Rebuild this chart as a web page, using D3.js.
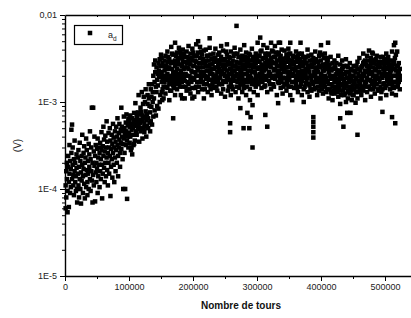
<!DOCTYPE html>
<html><head><meta charset="utf-8">
<script src="https://cdn.jsdelivr.net/npm/d3@7"></script>
<style>body{margin:0;background:#fff}svg{display:block}text{font-family:"Liberation Sans",Arial,Helvetica,sans-serif}</style>
</head><body><svg id="c" width="411" height="318"></svg>
<script>
// ---- data (x in thousands of tours, y in volts) ----
const xTicks=[0,100000,200000,300000,400000,500000];
const xMinorTicks=[50000,150000,250000,350000,450000,550000];
const yTicks=[1e-5,1e-4,1e-3,1e-2];
const yTickLabels=["1E-5","1E-4","1E-3","0,01"];
const xTitle="Nombre de tours", yTitle="(V)", seriesName="a", seriesSub="d";

const phase1=[[1,6.0e-5],[1,1.1e-4],[2,1.6e-4],[2,8.0e-5],[3,2.0e-4],[3,1.3e-4],[4,5.4e-5],[4,9.5e-5],[5,1.8e-4],[5,2.4e-4],[6,1.2e-4],[6,6.2e-5],[7,3.2e-4],[7,1.5e-4],[8,9.0e-5],[8,2.1e-4],[9,1.7e-4],[9,1.05e-4],[10,4.8e-4],[10,2.6e-4],[11,1.3e-4],[11,5.5e-4],[12,1.9e-4],[12,3.0e-4],[13,1.1e-4],[13,1.45e-4],[14,2.2e-4],[14,8.5e-5],[15,1.6e-4],[15,3.6e-4],[16,1.2e-4],[16,2.0e-4],[17,9.5e-5],[17,1.4e-4],[18,2.5e-4],[18,1.75e-4],[19,1.0e-4],[19,7.0e-5],[20,1.5e-4],[20,2.3e-4],
[21,1.1e-4],[21,2.8e-4],[22,1.8e-4],[22,8.0e-5],[23,1.3e-4],[23,3.4e-4],[24,2.1e-4],[24,1.0e-4],[25,1.55e-4],[25,6.8e-5],[26,2.4e-4],[26,1.25e-4],[27,1.9e-4],[27,4.2e-4],[28,9.0e-5],[28,1.4e-4],[29,2.6e-4],[29,1.7e-4],[30,1.15e-4],[30,3.1e-4],[31,2.0e-4],[31,7.8e-5],[32,1.45e-4],[32,2.3e-4],[33,1.05e-4],[33,3.8e-4],[34,1.65e-4],[34,2.8e-4],[35,1.2e-4],[35,8.5e-5],[36,2.1e-4],[36,1.5e-4],[37,3.3e-4],[37,1.0e-4],[38,1.8e-4],[38,2.5e-4],[39,1.3e-4],[39,4.6e-4],[40,2.2e-4],[40,9.5e-5],[41,1.6e-4],[41,3.0e-4],[42,8.6e-4],[42,1.25e-4],[43,2.0e-4],[43,7.0e-5],[44,8.6e-4],[44,1.45e-4],[45,2.7e-4],[45,1.1e-4],[46,1.85e-4],[46,4.0e-4],[47,7.2e-5],[47,2.4e-4],[48,1.55e-4],[48,3.2e-4],[49,2.0e-4],[49,1.2e-4],[50,2.9e-4],[50,1.7e-4],[51,3.8e-4],[51,9.0e-5],[52,2.3e-4],[52,1.4e-4],[53,1.9e-4],[53,3.0e-4],[54,1.05e-4],[54,2.6e-4],
[55,1.6e-4],[55,3.4e-4],[56,2.2e-4],[56,1.3e-4],[57,2.8e-4],[57,4.5e-4],[58,7.8e-5],[58,1.9e-4],[59,3.1e-4],[59,1.5e-4],[60,2.4e-4],[60,5.2e-4],[61,1.75e-4],[61,3.7e-4],[62,1.2e-4],[62,2.7e-4],[63,2.0e-4],[63,4.1e-4],[64,3.0e-4],[64,1.4e-4],[65,2.3e-4],[65,6.0e-4],[66,1.65e-4],[66,3.5e-4],[67,2.6e-4],[67,1.1e-4],[68,4.4e-4],[68,2.0e-4],[69,3.0e-4],[69,1.5e-4],[70,2.4e-4],[70,5.0e-4],[71,8.3e-5],[71,3.6e-4],[72,1.8e-4],[72,2.9e-4],[73,4.2e-4],[73,2.2e-4],[74,1.35e-4],[74,3.3e-4],[75,2.6e-4],[75,5.6e-4],[76,1.9e-4],[76,3.9e-4],[77,3.0e-4],[77,1.2e-4],[78,4.6e-4],[78,2.3e-4],[79,3.5e-4],[79,1.6e-4],[80,2.8e-4],[80,5.2e-4],[81,2.0e-4],[81,4.0e-4],[82,3.2e-4],[82,6.5e-4],[83,2.4e-4],[83,1.4e-4],[84,4.4e-4],[84,3.0e-4],[85,3.7e-4],[85,5.6e-4],[86,2.6e-4],[86,1.8e-4],[87,4.8e-4],[87,3.4e-4],[88,8.6e-4],[88,2.9e-4],[89,4.0e-4],[89,5.2e-4],[90,3.3e-4],[90,2.2e-4],[91,1.0e-4],[91,4.6e-4],[92,6.8e-4],[92,3.8e-4],[93,5.0e-4],[93,2.6e-4],[94,1.0e-4],[94,4.2e-4],[95,5.8e-4],[95,3.2e-4],[96,7.2e-4],[96,4.6e-4],[97,7.7e-5],[97,3.6e-4],[98,5.4e-4],[98,4.0e-4],[99,6.4e-4],[99,3.0e-4]];

const phase2=[[100,4.4e-4],[100,6.0e-4],[101,3.4e-4],[101,5.2e-4],[102,7.0e-4],[102,4.0e-4],[103,2.8e-4],[103,5.6e-4],[104,4.8e-4],[104,3.0e-4],[105,6.5e-4],[105,2.5e-4],[106,5.0e-4],[106,4.2e-4],[107,3.2e-4],[107,5.9e-4],[108,7.5e-4],[108,3.3e-4],[109,5.3e-4],[109,3.6e-4],[110,9.7e-4],[110,6.2e-4],[111,4.6e-4],[111,5.5e-4],[112,7.0e-4],[112,4.2e-4],[113,5.8e-4],[113,6.6e-4],[114,4.9e-4],[114,7.6e-4],[115,5.4e-4],[115,1.2e-3],[116,6.2e-4],[116,3.5e-4],[117,7.2e-4],[117,5.7e-4],[118,8.6e-4],[118,4.6e-4],[119,5.0e-4],[119,7.7e-4],[120,1.3e-3],[120,6.0e-4],[121,7.0e-4],[121,3.8e-4],[122,6.6e-4],[122,9.5e-4],[123,1.15e-3],[123,5.0e-4],[124,5.6e-4],[124,4.5e-4],[125,6.8e-4],[125,1.0e-3],[126,7.8e-4],[126,1.4e-3],[127,4.0e-4],[127,6.2e-4],[128,5.3e-4],[128,7.2e-4],[129,1.2e-3],[129,9.5e-4],[130,5.0e-4],[130,6.5e-4],[131,1.1e-3],[131,1.6e-3],[132,9.0e-4],[132,5.8e-4],[133,4.6e-4],[133,7.6e-4],[134,1.4e-3],[134,6.0e-4],[135,1.15e-3],[135,8.8e-4],[136,1.6e-3],[136,5.5e-4],[137,1.3e-3],[137,1.0e-3],[138,2.0e-3],[138,6.8e-4],[139,1.1e-3],[139,2.7e-3],[140,1.7e-3],[140,8.0e-4],[141,2.2e-3],[141,3.0e-3],[142,1.5e-3],[142,7.0e-4],[143,2.5e-3],[143,1.3e-3],[144,1.8e-3],[144,9.0e-4],[145,2.1e-3],[145,1.55e-3],[146,2.8e-3],[146,8.4e-4],[147,2.3e-3],[147,1.95e-3],[148,3.1e-3],[148,1.0e-3],[149,2.6e-3],[149,1.2e-3],[150,2.0e-3],[150,3.5e-3],[152,1.05e-3]];

// each row: thousands of tours, then the readings at that position
const phase3=[
[151,1.3e-3,2.2e-3,3.2e-3,1.7e-3],[154,2.6e-3,1.5e-3,1.1e-3,2.0e-3],[157,3.4e-3,1.8e-3,2.4e-3,1.25e-3],[160,2.1e-3,2.9e-3,1.45e-3,3.8e-3],[163,1.6e-3,2.5e-3,1.05e-3,3.1e-3],[166,2.8e-3,1.9e-3,4.3e-3,1.35e-3],[169,6.5e-4,2.2e-3,3.5e-3,1.55e-3],[172,2.6e-3,1.2e-3,3.0e-3,1.8e-3,4.8e-3],[175,2.0e-3,3.7e-3,1.4e-3,2.4e-3],[178,3.2e-3,1.65e-3,2.7e-3,4.2e-3],
[181,1.2e-3,2.3e-3,3.5e-3,1.9e-3],[184,2.9e-3,1.5e-3,4.0e-3,2.1e-3],[187,1.75e-3,3.3e-3,2.5e-3,1.1e-3],[190,3.8e-3,2.0e-3,1.35e-3,2.8e-3],[193,2.4e-3,1.6e-3,3.1e-3,4.4e-3],[196,1.25e-3,2.7e-3,1.9e-3,3.6e-3],[199,3.0e-3,2.2e-3,1.45e-3,4.1e-3],[202,1.8e-3,3.4e-3,2.6e-3,1.15e-3],[205,2.9e-3,4.6e-3,2.0e-3,1.5e-3],[208,2.3e-3,1.3e-3,3.7e-3,5.0e-3],
[211,3.2e-3,1.7e-3,2.5e-3,4.3e-3],[214,1.4e-3,2.8e-3,2.0e-3,3.5e-3],[217,2.2e-3,3.9e-3,1.6e-3,1.1e-3],[220,3.0e-3,1.85e-3,2.6e-3,4.0e-3],[223,1.3e-3,2.3e-3,3.4e-3,1.95e-3],[226,2.7e-3,4.2e-3,1.55e-3,2.1e-3],[229,1.8e-3,3.1e-3,2.4e-3,1.2e-3],[232,3.6e-3,2.0e-3,1.45e-3,2.9e-3],[235,2.5e-3,1.7e-3,4.1e-3,3.2e-3],[238,1.35e-3,2.2e-3,3.0e-3,1.9e-3],
[241,2.8e-3,3.7e-3,1.6e-3,2.4e-3],[244,2.1e-3,1.25e-3,3.3e-3,4.4e-3],[247,1.75e-3,2.6e-3,3.9e-3,1.4e-3],[250,3.1e-3,2.0e-3,1.15e-3,2.5e-3],[253,2.3e-3,3.5e-3,1.8e-3,4.6e-3],[256,1.5e-3,2.7e-3,2.1e-3,3.3e-3],[259,3.8e-3,1.65e-3,2.4e-3,1.2e-3],[262,2.0e-3,3.0e-3,1.4e-3,2.6e-3],[265,1.75e-3,3.6e-3,2.3e-3,4.2e-3],[268,7.5e-3,2.9e-3,1.5e-3,2.1e-3],
[271,3.3e-3,1.85e-3,2.5e-3,1.1e-3],[274,2.2e-3,4.0e-3,1.6e-3,2.8e-3],[277,1.3e-3,2.5e-3,3.4e-3,1.9e-3],[280,3.0e-3,2.1e-3,1.45e-3,4.5e-3],[283,2.6e-3,1.7e-3,3.7e-3,1.2e-3],[286,1.9e-3,2.9e-3,2.3e-3,3.2e-3],[289,1.4e-3,3.5e-3,2.0e-3,1.05e-3],[292,2.7e-3,1.6e-3,4.1e-3,2.2e-3],[295,3.1e-3,1.8e-3,1.3e-3,2.5e-3],[298,2.0e-3,3.6e-3,1.5e-3,2.8e-3],
[301,1.2e-3,2.4e-3,4.8e-3,3.0e-3],[304,2.9e-3,1.7e-3,3.4e-3,2.1e-3],[307,3.9e-3,2.3e-3,1.45e-3,2.7e-3],[310,1.9e-3,3.2e-3,2.5e-3,4.5e-3],[313,2.8e-3,1.55e-3,3.6e-3,2.0e-3],[316,1.3e-3,2.6e-3,4.2e-3,3.0e-3],[319,2.2e-3,3.5e-3,1.75e-3,2.9e-3],[322,4.8e-3,2.5e-3,1.4e-3,3.2e-3],[325,2.0e-3,2.8e-3,1.6e-3,3.8e-3],[328,3.3e-3,1.85e-3,2.4e-3,4.4e-3],
[331,2.6e-3,1.2e-3,3.0e-3,2.0e-3],[334,1.65e-3,3.7e-3,2.3e-3,4.8e-3],[337,2.9e-3,1.45e-3,3.4e-3,2.1e-3],[340,1.9e-3,2.6e-3,1.25e-3,3.1e-3],[343,2.3e-3,3.9e-3,1.6e-3,2.8e-3],[346,3.5e-3,1.8e-3,2.5e-3,1.35e-3],[349,2.0e-3,3.2e-3,1.5e-3,4.1e-3],[352,2.7e-3,1.2e-3,3.6e-3,2.2e-3],[355,1.7e-3,3.0e-3,2.4e-3,1.05e-3],[358,3.3e-3,2.0e-3,1.45e-3,2.7e-3],
[361,2.5e-3,1.6e-3,3.8e-3,1.9e-3],[364,1.3e-3,2.9e-3,2.2e-3,3.4e-3],[367,2.0e-3,1.5e-3,2.6e-3,3.1e-3],[370,1.75e-3,3.6e-3,1.2e-3,2.3e-3],[373,2.8e-3,2.0e-3,1.4e-3,1.0e-3],[376,2.4e-3,3.3e-3,1.65e-3,2.1e-3],[379,1.9e-3,1.3e-3,4.0e-3,2.6e-3],[382,2.2e-3,3.0e-3,1.55e-3,1.15e-3],[385,1.8e-3,2.7e-3,3.5e-3,1.35e-3],[388,6.7e-4,5.9e-4,5.2e-4,4.5e-4,3.9e-4,2.0e-3,1.6e-3,3.2e-3],
[391,2.5e-3,1.45e-3,3.8e-3,2.0e-3],[394,1.2e-3,2.3e-3,2.9e-3,1.7e-3],[397,3.4e-3,1.9e-3,2.6e-3,1.35e-3],[400,2.1e-3,1.55e-3,4.5e-3,3.0e-3],[403,1.8e-3,2.7e-3,1.25e-3,2.3e-3],[406,3.6e-3,2.0e-3,1.5e-3,2.5e-3],[409,1.4e-3,2.9e-3,1.75e-3,3.2e-3],[412,2.2e-3,1.1e-3,2.6e-3,1.6e-3],[415,1.85e-3,3.3e-3,1.3e-3,2.4e-3],[418,2.8e-3,1.5e-3,2.0e-3,1.05e-3],
[421,1.7e-3,2.5e-3,1.25e-3,3.0e-3],[424,2.1e-3,1.4e-3,2.8e-3,1.85e-3],[427,1.15e-3,2.3e-3,1.6e-3,3.4e-3],[430,1.9e-3,2.7e-3,1.35e-3,9.5e-4],[433,2.4e-3,1.55e-3,2.0e-3,3.0e-3],[436,1.2e-3,1.8e-3,2.6e-3,1.45e-3],[439,2.2e-3,1.0e-3,1.65e-3,3.1e-3],[442,1.35e-3,2.5e-3,1.9e-3,1.1e-3],[445,2.0e-3,1.5e-3,2.8e-3,1.25e-3],[448,1.75e-3,1.05e-3,2.3e-3,1.4e-3],
[451,2.6e-3,1.6e-3,1.2e-3,2.0e-3],[454,1.3e-3,2.2e-3,1.85e-3,9.8e-4],[457,1.55e-3,2.9e-3,1.1e-3,2.4e-3],[460,2.0e-3,1.4e-3,1.7e-3,3.2e-3],[463,1.2e-3,2.5e-3,1.95e-3,1.5e-3],[466,2.8e-3,1.35e-3,2.1e-3,3.6e-3],[469,1.6e-3,2.3e-3,1.05e-3,3.0e-3],[472,3.4e-3,1.9e-3,2.6e-3,1.3e-3],[475,2.1e-3,3.9e-3,1.5e-3,2.4e-3],[478,1.75e-3,2.8e-3,3.2e-3,1.15e-3],
[481,2.5e-3,1.4e-3,3.6e-3,2.0e-3],[484,3.0e-3,1.8e-3,2.3e-3,1.25e-3],[487,1.6e-3,2.7e-3,3.4e-3,2.0e-3],[490,2.2e-3,1.35e-3,2.9e-3,1.85e-3],[493,3.3e-3,2.5e-3,1.5e-3,1.1e-3],[496,1.9e-3,2.1e-3,2.8e-3,1.4e-3],[499,2.6e-3,1.65e-3,3.1e-3,2.3e-3],[502,1.2e-3,2.0e-3,3.6e-3,1.55e-3],[505,2.4e-3,2.9e-3,1.75e-3,3.3e-3],[508,1.4e-3,2.2e-3,1.9e-3,2.7e-3],
[511,3.8e-3,1.6e-3,2.5e-3,1.25e-3],[514,2.0e-3,4.5e-3,1.45e-3,2.9e-3],[517,1.7e-3,2.3e-3,1.2e-3,3.5e-3],[520,2.6e-3,1.9e-3,1.55e-3,2.2e-3],[523,1.8e-3,2.4e-3,1.4e-3,2.0e-3]];

// further readings in the plateau, taken between the rows above
const phase3b=[
[152.5,1.9e-3,2.8e-3,1.4e-3],[155.5,2.3e-3,3.0e-3,1.7e-3],[158.5,1.5e-3,2.6e-3,2.0e-3],[161.5,3.3e-3,1.8e-3,2.4e-3],[164.5,2.0e-3,1.35e-3,2.9e-3],[167.5,2.4e-3,3.6e-3,1.7e-3],[170.5,1.45e-3,2.0e-3,2.9e-3],[173.5,2.2e-3,3.4e-3,1.6e-3],[176.5,2.9e-3,1.8e-3,3.2e-3],[179.5,2.1e-3,1.5e-3,3.8e-3],
[182.5,2.6e-3,3.2e-3,1.7e-3],[185.5,1.9e-3,2.4e-3,3.6e-3],[188.5,2.9e-3,1.5e-3,2.1e-3],[191.5,1.7e-3,3.3e-3,2.5e-3],[194.5,2.0e-3,2.8e-3,1.4e-3],[197.5,3.2e-3,2.3e-3,1.7e-3],[200.5,2.6e-3,1.9e-3,3.7e-3],[203.5,2.2e-3,3.0e-3,1.45e-3],[206.5,1.7e-3,2.5e-3,3.4e-3],[209.5,2.8e-3,2.0e-3,1.5e-3],
[212.5,2.2e-3,3.8e-3,1.9e-3],[215.5,2.5e-3,1.7e-3,3.1e-3],[218.5,2.8e-3,2.0e-3,1.4e-3],[221.5,2.3e-3,3.4e-3,1.6e-3],[224.5,1.8e-3,2.6e-3,3.0e-3],[227.5,3.5e-3,2.3e-3,1.4e-3],[230.5,2.1e-3,2.7e-3,1.6e-3],[233.5,2.4e-3,3.2e-3,1.8e-3],[236.5,2.0e-3,2.9e-3,1.5e-3],[239.5,2.6e-3,1.7e-3,3.5e-3],
[242.5,1.9e-3,2.3e-3,3.0e-3],[245.5,2.7e-3,1.6e-3,2.2e-3],[248.5,2.1e-3,3.0e-3,2.4e-3],[251.5,1.7e-3,2.7e-3,3.8e-3],[254.5,2.0e-3,2.9e-3,1.35e-3],[257.5,2.4e-3,3.2e-3,1.8e-3],[260.5,2.8e-3,1.5e-3,2.2e-3],[263.5,2.3e-3,3.4e-3,1.8e-3],[266.5,2.6e-3,2.0e-3,1.3e-3],[269.5,3.6e-3,2.4e-3,1.7e-3],
[272.5,2.0e-3,2.8e-3,1.45e-3],[275.5,3.1e-3,2.3e-3,1.75e-3],[278.5,2.7e-3,1.6e-3,2.1e-3],[281.5,2.4e-3,3.3e-3,1.8e-3],[284.5,2.1e-3,2.9e-3,1.5e-3],[287.5,2.6e-3,1.7e-3,3.6e-3],[290.5,2.3e-3,3.0e-3,1.9e-3],[293.5,1.8e-3,2.5e-3,3.3e-3],[296.5,2.2e-3,2.8e-3,1.6e-3],[299.5,2.5e-3,1.8e-3,3.3e-3],
[302.5,2.0e-3,3.4e-3,1.6e-3],[305.5,2.5e-3,1.9e-3,3.8e-3],[308.5,2.1e-3,3.1e-3,1.7e-3],[311.5,2.6e-3,1.5e-3,2.3e-3],[314.5,3.3e-3,2.4e-3,1.8e-3],[317.5,2.0e-3,2.9e-3,3.6e-3],[320.5,2.6e-3,1.6e-3,2.1e-3],[323.5,2.9e-3,3.9e-3,1.9e-3],[326.5,2.3e-3,3.3e-3,1.5e-3],[329.5,2.8e-3,2.0e-3,3.7e-3],
[332.5,2.2e-3,3.5e-3,1.7e-3],[335.5,2.6e-3,3.1e-3,1.9e-3],[338.5,2.4e-3,1.7e-3,4.0e-3],[341.5,2.9e-3,2.2e-3,1.5e-3],[344.5,3.2e-3,1.9e-3,2.5e-3],[347.5,2.2e-3,2.9e-3,1.6e-3],[350.5,2.5e-3,3.6e-3,1.8e-3],[353.5,2.0e-3,3.0e-3,1.5e-3],[356.5,2.7e-3,2.1e-3,3.4e-3],[359.5,2.3e-3,1.7e-3,2.9e-3],
[362.5,2.0e-3,3.1e-3,1.45e-3],[365.5,2.5e-3,1.8e-3,3.6e-3],[368.5,2.2e-3,2.9e-3,1.6e-3],[371.5,2.6e-3,1.9e-3,3.3e-3],[374.5,2.2e-3,3.0e-3,1.5e-3],[377.5,1.8e-3,2.8e-3,2.3e-3],[380.5,2.4e-3,3.4e-3,1.6e-3],[383.5,2.0e-3,2.6e-3,1.4e-3],[386.5,2.5e-3,3.0e-3,1.7e-3],[389.5,2.2e-3,2.8e-3,1.4e-3],
[392.5,1.8e-3,3.1e-3,2.4e-3],[395.5,2.2e-3,2.9e-3,1.5e-3],[398.5,2.5e-3,1.7e-3,3.7e-3],[401.5,2.0e-3,2.6e-3,1.4e-3],[404.5,2.3e-3,3.2e-3,1.6e-3],[407.5,1.9e-3,2.7e-3,1.3e-3],[410.5,2.4e-3,1.7e-3,3.0e-3],[413.5,2.0e-3,1.4e-3,2.7e-3],[416.5,2.3e-3,1.6e-3,1.25e-3],[419.5,1.9e-3,2.4e-3,1.35e-3],
[422.5,2.0e-3,1.5e-3,2.5e-3],[425.5,1.7e-3,2.3e-3,1.3e-3],[428.5,2.1e-3,1.45e-3,1.8e-3],[431.5,1.6e-3,2.2e-3,1.2e-3],[434.5,1.85e-3,1.35e-3,2.5e-3],[437.5,2.1e-3,1.6e-3,1.25e-3],[440.5,1.5e-3,1.9e-3,2.6e-3],[443.5,1.7e-3,2.2e-3,1.3e-3],[446.5,1.8e-3,1.35e-3,2.4e-3],[449.5,2.0e-3,1.55e-3,1.2e-3],
[452.5,1.7e-3,2.3e-3,1.4e-3],[455.5,1.9e-3,1.5e-3,2.6e-3],[458.5,2.1e-3,1.3e-3,1.75e-3],[461.5,1.6e-3,2.3e-3,1.35e-3],[464.5,1.8e-3,2.6e-3,1.4e-3],[467.5,2.0e-3,1.5e-3,2.9e-3],[470.5,2.2e-3,1.7e-3,2.7e-3],[473.5,2.3e-3,1.5e-3,3.0e-3],[476.5,1.8e-3,2.6e-3,1.4e-3],[479.5,2.2e-3,3.0e-3,1.6e-3],
[482.5,2.0e-3,2.8e-3,1.5e-3],[485.5,2.4e-3,1.6e-3,3.1e-3],[488.5,1.9e-3,2.5e-3,1.4e-3],[491.5,2.6e-3,1.7e-3,2.2e-3],[494.5,2.0e-3,2.9e-3,1.3e-3],[497.5,2.4e-3,1.6e-3,3.3e-3],[500.5,2.1e-3,2.8e-3,1.45e-3],[503.5,1.8e-3,2.5e-3,3.0e-3],[506.5,2.1e-3,1.6e-3,2.6e-3],[509.5,2.3e-3,1.8e-3,3.0e-3],
[512.5,2.0e-3,2.7e-3,1.5e-3],[515.5,2.4e-3,1.7e-3,3.2e-3],[518.5,2.0e-3,2.6e-3,1.5e-3],[521.5,2.2e-3,1.7e-3,2.8e-3]];

const outliers=[[226,5.4e-3],[183,1.1e-3],[199,1.1e-3],[258,5.7e-4],[258,4.5e-4],[279,5.0e-4],[288,5.0e-4],[293,3.0e-4],[313,7.1e-4],[316,5.2e-4],[285,7.5e-4],[274,8.5e-4],[293,9.2e-4],[290,6.7e-4],[333,9.7e-4],
[430,6.5e-4],[435,5.2e-4],[457,4.2e-4],[446,7.5e-4],[441,7.5e-4],[496,7.7e-4],[511,6.7e-4],[516,5.7e-4],
[336,4.8e-3],[352,4.8e-3],[368,4.8e-3],[411,4.8e-3],[516,4.8e-3],[480,3.7e-3],[519,3.8e-3],[402,3.5e-3],[305,5.5e-3]];

// ---- drawing ----
const rows=r=>r.slice(1).map(v=>[r[0],v]);
const points=phase1.concat(phase2,phase3.flatMap(rows),phase3b.flatMap(rows),outliers);

const svg=d3.select("#c");
const L=65,T=15,B=276,R=417;
const x=d3.scaleLinear().domain([0,550000]).range([L,R]);
const y=d3.scaleLog().domain([1e-5,1e-2]).range([B,T]);
const ms=4.5;

svg.append("g").selectAll("rect").data(points).join("rect")
  .attr("x",d=>x(d[0]*1000)-ms/2).attr("y",d=>y(d[1])-ms/2)
  .attr("width",ms).attr("height",ms).attr("fill","#000");

function style(g){
  g.select(".domain").attr("stroke","#000").attr("stroke-width",1.4);
  g.selectAll(".tick line").attr("stroke","#000").attr("stroke-width",1);
  g.selectAll(".tick text").attr("fill","#222").attr("font-size",9);
}
// bottom
svg.append("g").attr("transform",`translate(0,${B})`)
  .call(d3.axisBottom(x).tickValues(xTicks).tickFormat(d3.format("d")).tickSize(5).tickSizeOuter(0).tickPadding(3)).call(style);
svg.append("g").attr("transform",`translate(0,${B})`)
  .call(d3.axisBottom(x).tickValues(xMinorTicks).tickFormat("").tickSize(3).tickSizeOuter(0)).call(style)
  .select(".domain").remove();
// top (ticks inward)
svg.append("g").attr("transform",`translate(0,${T})`)
  .call(d3.axisBottom(x).tickValues(xTicks.slice(1)).tickFormat("").tickSize(4).tickSizeOuter(0)).call(style);
svg.append("g").attr("transform",`translate(0,${T})`)
  .call(d3.axisBottom(x).tickValues(xMinorTicks).tickFormat("").tickSize(2).tickSizeOuter(0)).call(style)
  .select(".domain").remove();
// left
svg.append("g").attr("transform",`translate(${L},0)`)
  .call(d3.axisLeft(y).tickValues(yTicks).tickFormat((d,i)=>yTickLabels[i]).tickSize(5).tickSizeOuter(0).tickPadding(3)).call(style);
const yMinor=[];
for(const dec of [1e-5,1e-4,1e-3]) for(let k=2;k<=9;k++) yMinor.push(dec*k);
svg.append("g").attr("transform",`translate(${L},0)`)
  .call(d3.axisLeft(y).tickValues(yMinor).tickFormat("").tickSize(3).tickSizeOuter(0)).call(style)
  .select(".domain").remove();
// right
svg.append("line").attr("x1",R).attr("x2",R).attr("y1",T).attr("y2",B).attr("stroke","#000").attr("stroke-width",1.4);

// titles
svg.append("text").attr("x",(L+R)/2).attr("y",309).attr("text-anchor","middle")
  .attr("font-size",10).attr("font-weight","bold").attr("fill","#111").text(xTitle);
svg.append("text").attr("transform",`translate(21,${(T+B)/2}) rotate(-90)`).attr("text-anchor","middle")
  .attr("font-size",10).attr("fill","#222").text(yTitle);

// legend
svg.append("rect").attr("x",74.5).attr("y",25.5).attr("width",48).attr("height",19)
  .attr("fill","#fff").attr("stroke","#000").attr("stroke-width",1.2);
svg.append("rect").attr("x",90-ms/2).attr("y",33-ms/2).attr("width",ms).attr("height",ms).attr("fill","#000");
const lt=svg.append("text").attr("x",108).attr("y",37.5).attr("font-size",9).attr("fill","#222");
lt.append("tspan").text(seriesName);
lt.append("tspan").attr("font-size",6.5).attr("dy",3).text(seriesSub);
</script></body></html>
